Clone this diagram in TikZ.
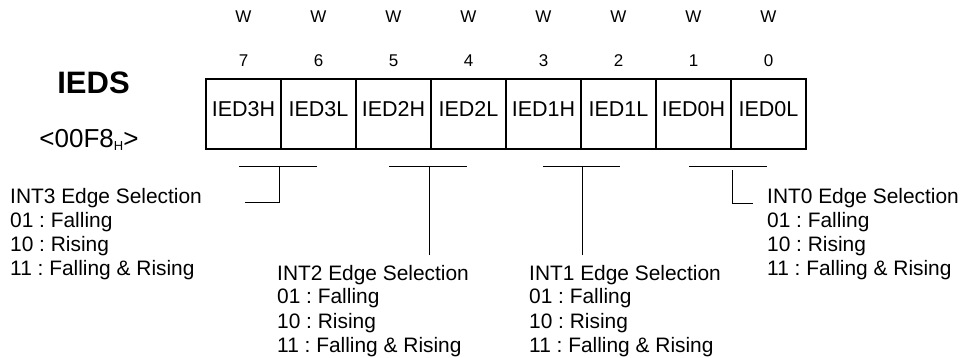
\documentclass[tikz,border=0pt]{standalone}
\usepackage{fontspec}
\setmainfont{Liberation Sans}
\frenchspacing
\newcommand\edgesel[4]{%
  \node[seltxt] (#1a) at (#2,#3) {#4 Edge Selection};
  \node[seltxt] (#1b) at (#2,#3+24) {01 : Falling};
  \node[seltxt] (#1c) at (#2,#3+48) {10 : Rising};
  \node[seltxt] (#1d) at (#2,#3+72) {11 : Falling \& Rising};
}
\begin{document}
\begin{tikzpicture}[x=1pt,y=-1pt,
  cell/.style={draw=black,line width=1.8pt,minimum width=75pt,minimum height=70pt,inner sep=0pt,anchor=center},
  celltxt/.style={anchor=base,inner sep=0pt,font=\fontsize{21.5}{24}\selectfont},
  bittxt/.style={anchor=base,inner sep=0pt,font=\fontsize{17}{18}\selectfont},
  seltxt/.style={anchor=base west,inner sep=0pt,font=\fontsize{20.9}{24}\selectfont},
  brk/.style={draw=black,line width=0.9pt}]
\useasboundingbox (0,0) rectangle (967,358);
\fill[white] (0,0) rectangle (967,358);
% register cells
\foreach \b/\t [count=\k from 0] in {7/IED3H,6/IED3L,5/IED2H,4/IED2L,3/IED1H,2/IED1L,1/IED0H,0/IED0L}{
  \node[cell] (c\b) at ({206+75*\k+37.5},114) {};
  \node[celltxt] (t\b) at ({206+75*\k+37.5},117) {\t};
  \node[bittxt] (n\b) at ({206+75*\k+37.5},66.7) {\b};
  \node[bittxt] (w\b) at ({206+75*\k+37.5},22.7) {W};
}
% register name
\node[anchor=base,inner sep=0pt,font=\fontsize{31}{32}\selectfont\bfseries] (name) at (93.5,93.3) {IEDS};
\node[anchor=base,inner sep=0pt,font=\fontsize{26}{28}\selectfont] (addr) at (89,147.3)
  {<00F8{\fontsize{13}{13}\selectfont\raisebox{-3.5pt}{H}}>};
% descriptions
\edgesel{s3}{10}{204}{INT3}
\edgesel{s2}{277}{280}{INT2}
\edgesel{s1}{529}{280}{INT1}
\edgesel{s0}{767}{204}{INT0}
% brackets
\coordinate (b3m) at (279,166);
\coordinate (b2m) at (429,166);
\coordinate (b1m) at (582,166);
\coordinate (b0m) at (732,170);
\draw[brk] (239,166) -- (317,166);
\draw[brk] (b3m) -- (279,202) -- (245,202);
\draw[brk] (389,166) -- (467,166);
\draw[brk] (b2m) -- (429,255);
\draw[brk] (543,166) -- (620,166);
\draw[brk] (b1m) -- (582,255);
\draw[brk] (689,166) -- (767,166);
\draw[brk] (b0m) -- (732,203) -- (753,203);
\end{tikzpicture}
\end{document}
